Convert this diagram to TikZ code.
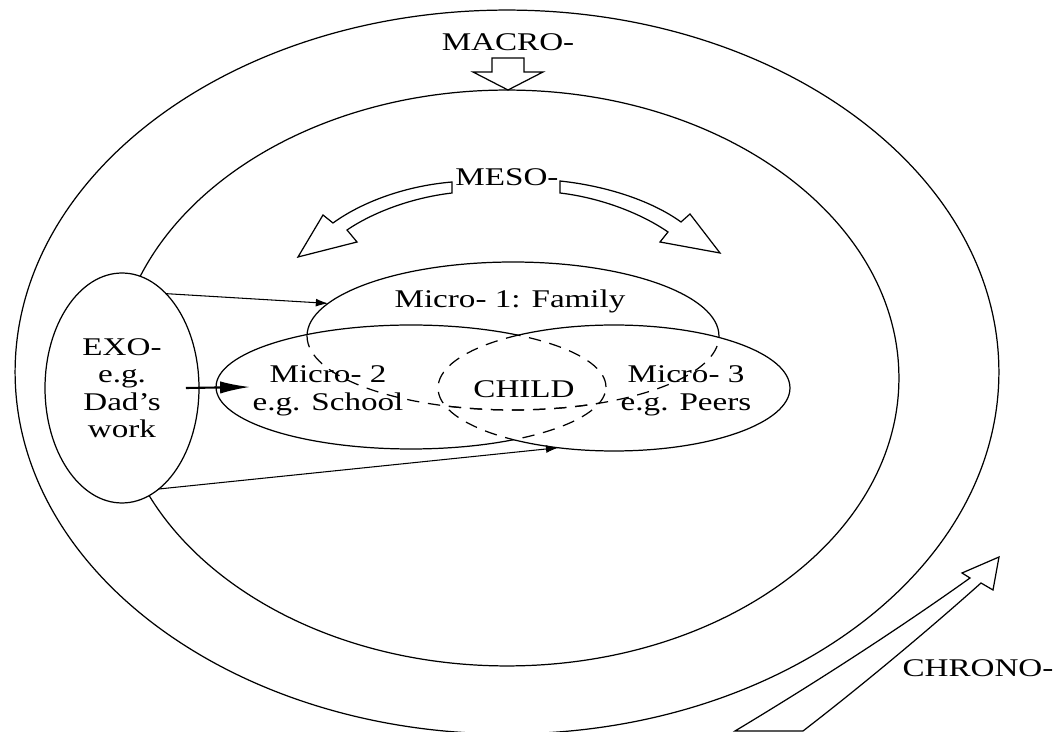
\documentclass[tikz,border=0pt]{standalone}
\usepackage{fontspec}
\setmainfont{Liberation Serif}[FakeStretch=1.3]
\usetikzlibrary{arrows.meta,shapes.geometric}

% the three micro-systems as paths
\newcommand{\familyoval}{(micro1.center) ellipse [x radius=4.12cm, y radius=1.48cm]}
\newcommand{\schooloval}{(micro2.center) ellipse [x radius=3.9cm, y radius=1.24cm]}
\newcommand{\peersoval}{(micro3.center) ellipse [x radius=3.52cm, y radius=1.26cm]}
\newcommand{\wholepage}{(0,0) rectangle (1062,732)}

\begin{document}
\begin{tikzpicture}[x=0.02cm, y=-0.02cm, line width=0.7pt,
    font=\fontsize{14.5}{15.6}\selectfont,
    ring/.style={ellipse, inner sep=0pt, outer sep=0pt},
    blockarrow/.style={draw, fill=white, line join=miter},
    lbl/.style={align=center, inner sep=0pt},
    hidden/.style={dash pattern=on 7pt off 5pt},
    link/.style={-{Latex[length=7pt, width=4.5pt]}, line width=0.6pt}]
    \useasboundingbox \wholepage;
    \clip \wholepage;

    % macro and exo rings
    \draw (507,372) ellipse [x radius=9.84cm, y radius=7.24cm];
    \draw (507,378) ellipse [x radius=7.84cm, y radius=5.76cm];

    % block arrows
    \draw[blockarrow] (492,58) -- (524,58) -- (524,72) -- (543,72) -- (508,90)
        -- (473,72) -- (492,72) -- cycle;
    \draw[blockarrow] (452,182) -- (452,193) .. controls (410,198) and (372,213) .. (347,230)
        -- (357,242) -- (298,257) -- (323,215) -- (333,223)
        .. controls (362,202) and (405,186) .. (452,182) -- cycle;
    \draw[blockarrow] (560,181) -- (560,193) .. controls (602,198) and (642,214) .. (668,232)
        -- (660,242) -- (720,253) -- (690,214) -- (681,222)
        .. controls (652,201) and (607,186) .. (560,181) -- cycle;
    \draw[blockarrow] (735,731) .. controls (815,683) and (900,628) .. (970,578)
        -- (962,573) -- (999,557) -- (993,590) -- (981,583)
        .. controls (925,633) and (860,687) .. (803,731) -- cycle;

    % systems
    \node[ring, draw, fill=white, lbl, minimum width=3.08cm, minimum height=4.6cm] (exo)
        at (122,388) {EXO-\\e.g.\\Dad's\\work};
    \node[ring, minimum width=8.24cm, minimum height=2.96cm] (micro1) at (513,336) {};
    \node[ring, minimum width=7.8cm, minimum height=2.48cm] (micro2) at (411,387) {};
    \node[ring, minimum width=7.04cm, minimum height=2.52cm] (micro3) at (614,388) {};

    % dashed where the systems overlap
    \begin{scope}
        \clip \schooloval;
        \draw[hidden] \familyoval;
        \draw[hidden] \peersoval;
    \end{scope}
    \begin{scope}
        \clip \peersoval;
        \draw[hidden] \familyoval;
        \draw[hidden] \schooloval;
    \end{scope}
    % solid elsewhere
    \begin{scope}[even odd rule]
        \clip \wholepage \schooloval;
        \draw \peersoval;
        \begin{scope}
            \clip \wholepage \peersoval;
            \draw \familyoval;
        \end{scope}
    \end{scope}
    \begin{scope}[even odd rule]
        \clip \wholepage \peersoval;
        \draw \schooloval;
    \end{scope}

    % labels
    \node[lbl] (macro) at (508,42) {MACRO-};
    \node[lbl] (meso) at (507,177) {MESO-};
    \node[lbl] (chrono) at (978,668) {CHRONO-};
    \node[lbl] (family) at (510,301) {Micro- 1: Family};
    \node[lbl] (school) at (328,391) {Micro- 2\\e.g. School};
    \node[lbl] (child) at (524,389) {CHILD};
    \node[lbl] (peers) at (686,391) {Micro- 3\\e.g. Peers};

    % influences of the exo-system
    \draw[link] (exo.65) -- (micro1.170);
    \draw[-{Latex[length=17pt, width=7pt]}, line width=1.2pt]
        ([xshift=-0.26cm]exo.east) -- ([xshift=0.68cm]micro2.west);
    \draw[link] (exo.-70) -- (micro3.227);
\end{tikzpicture}
\end{document}
